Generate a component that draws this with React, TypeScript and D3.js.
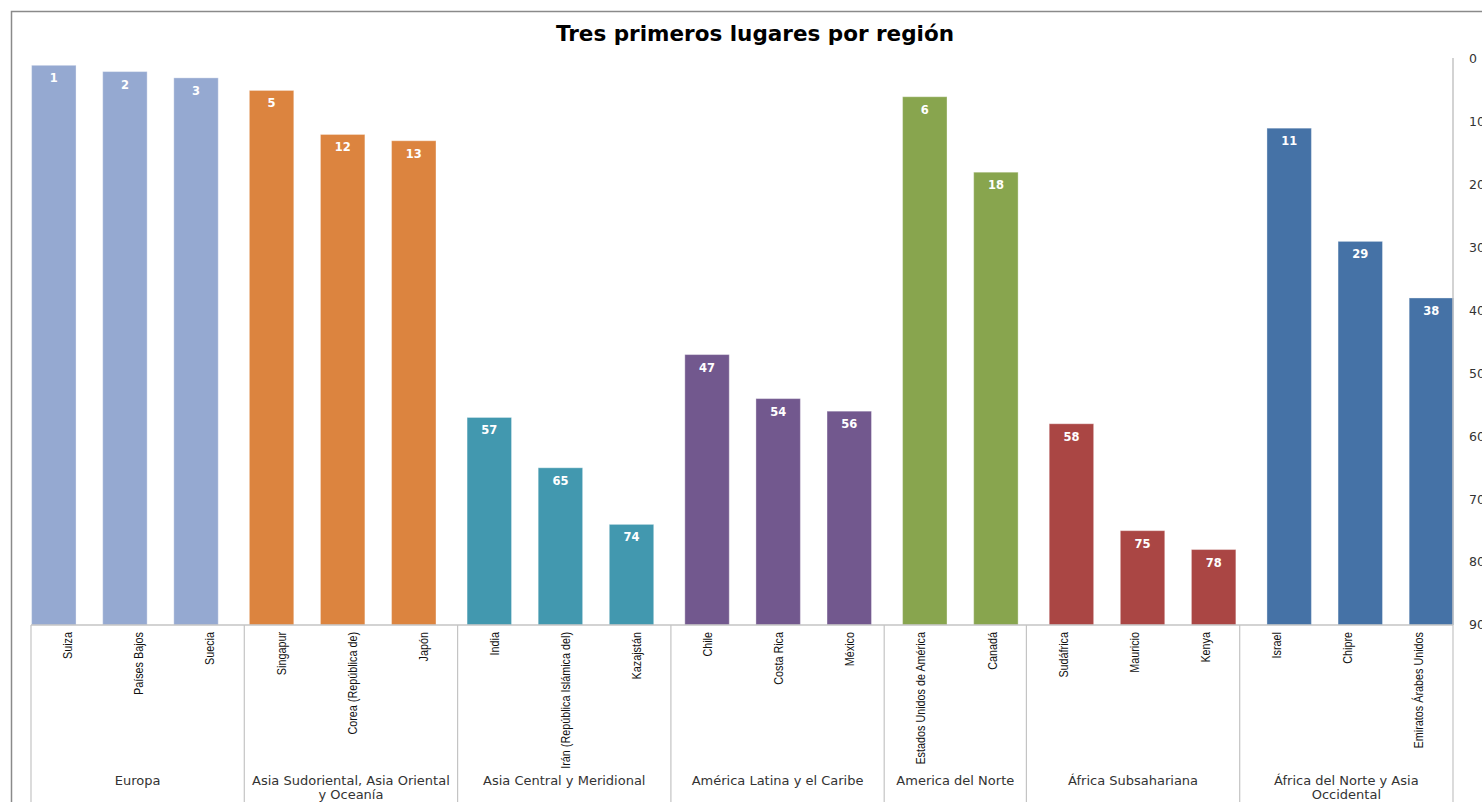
import React from "react";
import * as d3 from "d3";

const regions = [
  "Europa",
  "Asia Sudoriental, Asia Oriental y Oceanía",
  "Asia Central y Meridional",
  "América Latina y el Caribe",
  "America del Norte",
  "África Subsahariana",
  "África del Norte y Asia Occidental",
];
const regionLines = [
  ["Europa"],
  ["Asia Sudoriental, Asia Oriental", "y Oceanía"],
  ["Asia Central y Meridional"],
  ["América Latina y el Caribe"],
  ["America del Norte"],
  ["África Subsahariana"],
  ["África del Norte y Asia", "Occidental"],
];
const regionColors = ["#95A9D1", "#DC843F", "#4298AF", "#72588E", "#88A54E", "#AA4644", "#4572A6"];
const countries = [
  "Suiza", "Países Bajos", "Suecia",
  "Singapur", "Corea (República de)", "Japón",
  "India", "Irán (República Islámica del)", "Kazajstán",
  "Chile", "Costa Rica", "México",
  "Estados Unidos de América", "Canadá",
  "Sudáfrica", "Mauricio", "Kenya",
  "Israel", "Chipre", "Emiratos Árabes Unidos",
];
const countryRegion = [0, 0, 0, 1, 1, 1, 2, 2, 2, 3, 3, 3, 4, 4, 5, 5, 5, 6, 6, 6];
const ranks = [1, 2, 3, 5, 12, 13, 57, 65, 74, 47, 54, 56, 6, 18, 58, 75, 78, 11, 29, 38];
const yTicks = [0, 10, 20, 30, 40, 50, 60, 70, 80, 90];
const title = "Tres primeros lugares por región";

const W = 1482;
const H = 802;
const left = 31;
const right = 1453;
const top = 59;
const bottom = 625;

export default function App() {
  const x = d3.scaleBand<string>().domain(countries).range([left, right]).padding(0);
  const bw = x.bandwidth();
  const barW = bw / 1.6;
  const off = d3.scaleLinear().domain([0, regions.length - 1]).range([0.6, bw - barW + 0.6]);
  const y = d3.scaleLinear().domain([0, 90]).range([top, bottom]);

  const groups = regions.map((r, i) => {
    const idx = countryRegion.map((g, k) => (g === i ? k : -1)).filter((k) => k >= 0);
    const x0 = x(countries[idx[0]])!;
    const x1 = x(countries[idx[idx.length - 1]])! + bw;
    return { r, i, x0, x1 };
  });

  const sans = "'DejaVu Sans', Verdana, sans-serif";
  const narrow = "'Liberation Sans', Arial, sans-serif";

  return (
    <svg
      width={W}
      height={H}
      style={{ position: "absolute", left: 0, top: 0, display: "block", background: "#fff" }}
    >
      <rect x={11.5} y={11.5} width={W + 20} height={H + 20} fill="#fff" stroke="#8a8a8a" strokeWidth={1.5} />
      <text
        x={755}
        y={41}
        textAnchor="middle"
        fontFamily={sans}
        fontWeight="bold"
        fontSize={21.5}
        fill="#000"
      >
        {title}
      </text>

      {/* bars */}
      {countries.map((c, k) => {
        const g = countryRegion[k];
        const bx = x(c)! + off(g);
        const by = y(ranks[k]);
        return (
          <g key={c}>
            <rect
              x={bx}
              y={by}
              width={barW}
              height={y(90) - by}
              fill={regionColors[g]}
              stroke="rgba(255,255,255,0.35)"
              strokeWidth={1}
            />
            <text
              x={bx + barW / 2}
              y={by + 13}
              dy="0.35em"
              textAnchor="middle"
              fontFamily={sans}
              fontWeight="bold"
              fontSize={11.5}
              fill="#fff"
            >
              {ranks[k]}
            </text>
          </g>
        );
      })}

      {/* axes */}
      <line x1={right} x2={right} y1={top - 1} y2={bottom} stroke="#c4c4c4" strokeWidth={1.5} />
      <line x1={left} x2={right} y1={bottom} y2={bottom} stroke="#c4c4c4" strokeWidth={1.5} />
      {yTicks.map((t) => (
        <text
          key={t}
          x={1469}
          y={y(t)}
          dy="0.35em"
          textAnchor="start"
          fontFamily={sans}
          fontSize={12.5}
          fill="#333"
        >
          {t}
        </text>
      ))}

      {/* group separators */}
      {groups.map((g) => (
        <line key={"s" + g.i} x1={g.x0} x2={g.x0} y1={bottom} y2={H} stroke="#c4c4c4" strokeWidth={1.2} />
      ))}
      <line x1={right} x2={right} y1={bottom} y2={H} stroke="#c4c4c4" strokeWidth={1.2} />

      {/* country labels */}
      {countries.map((c) => (
        <text
          key={"l" + c}
          transform={`translate(${x(c)! + bw / 2 + 1},${bottom + 7}) rotate(-90) scale(0.8,1)`}
          dy="0.35em"
          textAnchor="end"
          fontFamily={narrow}
          fontSize={13.5}
          fill="#111"
        >
          {c}
        </text>
      ))}

      {/* region labels */}
      {groups.map((g) => (
        <text
          key={"r" + g.i}
          x={(g.x0 + g.x1) / 2}
          y={780}
          textAnchor="middle"
          fontFamily={sans}
          fontSize={13}
          fill="#333"
        >
          {regionLines[g.i].map((ln, j) => (
            <tspan key={j} x={(g.x0 + g.x1) / 2} dy={j === 0 ? "0.35em" : 14}>
              {ln}
            </tspan>
          ))}
        </text>
      ))}
    </svg>
  );
}
